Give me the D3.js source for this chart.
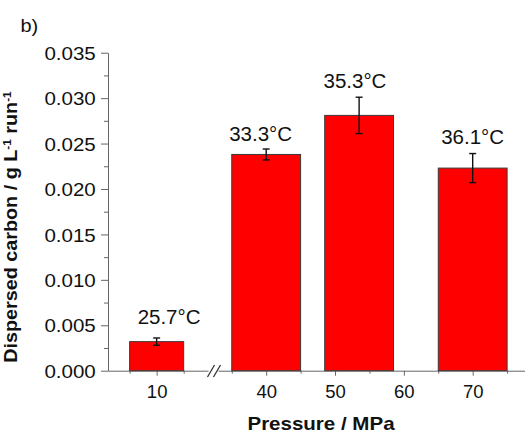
<!DOCTYPE html>
<html>
<head>
<meta charset="utf-8">
<script src="https://cdn.jsdelivr.net/npm/d3@7"></script>
<style>
  html, body { margin: 0; padding: 0; background: #fff; }
  svg { display: block; }
  text { font-family: "Liberation Sans", Arial, sans-serif; fill: #111; }
</style>
</head>
<body>
<svg id="chart" width="525" height="433"></svg>
<script>
// ---- data ----
const pressures = [10, 40, 53.5, 70];            // MPa (bar centres)
const carbon    = [0.0032, 0.0238, 0.0281, 0.0223];
const carbonErr = [0.0004, 0.0006, 0.0020, 0.0016];
const tempLabels = ["25.7°C", "33.3°C", "35.3°C", "36.1°C"];
const labelAtX  = [12.3, 39.2, 52.9, 70];        // annotation anchor, MPa
const labelAtY  = [0.0051, 0.0253, 0.0311, 0.0250]; // annotation baseline, data units
const yTicks = [0, 0.005, 0.010, 0.015, 0.020, 0.025, 0.030, 0.035];
const yMinor = [0.0025, 0.0075, 0.0125, 0.0175, 0.0225, 0.0275, 0.0325];
const xMajorLeft = [10], xMinorLeft = [5, 15];
const xMajorRight = [40, 50, 60, 70], xMinorRight = [35, 45, 55, 65, 75];
const barWidthMPa = 10;

// ---- scales ----
const svg = d3.select("#chart");
const y = d3.scaleLinear().domain([0, 0.035]).range([370.7, 52.7]);
const xL = d3.scaleLinear().domain([1, 19.5]).range([108, 208]);
const xR = d3.scaleLinear().domain([33, 77.6]).range([218, 525]);
const xOf = p => p < 25 ? xL : xR;

const axisColor = "#666";

// ---- bars ----
const bars = svg.append("g");
pressures.forEach((p, i) => {
  const xs = xOf(p);
  bars.append("rect")
    .attr("x", xs(p - barWidthMPa / 2))
    .attr("width", xs(p + barWidthMPa / 2) - xs(p - barWidthMPa / 2))
    .attr("y", y(carbon[i]))
    .attr("height", y(0) - y(carbon[i]))
    .attr("fill", "#ff0000")
    .attr("stroke", "#3a3a3a")
    .attr("stroke-width", 1);
});

// ---- error bars ----
const eb = svg.append("g").attr("stroke", "#111").attr("stroke-width", 1.4);
pressures.forEach((p, i) => {
  const cx = xOf(p)(p);
  const t = y(carbon[i] + carbonErr[i]), b = y(carbon[i] - carbonErr[i]);
  eb.append("line").attr("x1", cx).attr("x2", cx).attr("y1", t).attr("y2", b);
  eb.append("line").attr("x1", cx - 3.5).attr("x2", cx + 3.5).attr("y1", t).attr("y2", t);
  eb.append("line").attr("x1", cx - 3.5).attr("x2", cx + 3.5).attr("y1", b).attr("y2", b);
});

// ---- y axis ----
const yAx = svg.append("g").attr("transform", "translate(108,0)")
  .call(d3.axisLeft(y).tickValues(yTicks).tickFormat(d3.format(".3f")).tickSize(7).tickPadding(4).tickSizeOuter(0));
yAx.append("g").call(d3.axisLeft(y).tickValues(yMinor).tickFormat("").tickSize(4).tickSizeOuter(0))
  .select(".domain").remove();
yAx.selectAll("path, line").attr("stroke", axisColor);
yAx.selectAll("text").attr("font-size", 18.5).attr("font-family", "Liberation Sans, Arial, sans-serif")
  .attr("fill", "#111").attr("transform", "scale(1.11,1)").attr("dy", "0.36em");

// ---- x axis (broken) ----
function xAxisPart(scale, major, minor) {
  const g = svg.append("g").attr("transform", "translate(0,370.7)")
    .call(d3.axisBottom(scale).tickValues(major).tickFormat(d3.format("d")).tickSize(5).tickPadding(9).tickSizeOuter(0));
  g.append("g").call(d3.axisBottom(scale).tickValues(minor).tickFormat("").tickSize(3).tickSizeOuter(0))
    .select(".domain").remove();
  g.selectAll("path, line").attr("stroke", axisColor);
  g.selectAll("text").attr("font-size", 18.5).attr("font-family", "Liberation Sans, Arial, sans-serif").attr("fill", "#111");
  return g;
}
xAxisPart(xL, xMajorLeft, xMinorLeft);
xAxisPart(xR, xMajorRight, xMinorRight);
// bars drawn above axis line
bars.raise(); eb.raise();

// break marks
const brk = svg.append("g").attr("stroke", "#333").attr("stroke-width", 1.3);
[207.5, 213.5].forEach(bx => {
  brk.append("line").attr("x1", bx).attr("y1", 377).attr("x2", bx + 7).attr("y2", 365);
});

// ---- annotations ----
tempLabels.forEach((t, i) => {
  svg.append("text")
    .attr("x", xOf(labelAtX[i])(labelAtX[i]))
    .attr("y", y(labelAtY[i]))
    .attr("text-anchor", "middle")
    .attr("font-size", 20.5)
    .text(t);
});

// ---- titles ----
svg.append("text").attr("transform", "translate(321,430) scale(1.14,1)")
  .attr("text-anchor", "middle").attr("font-size", 18).attr("font-weight", "bold")
  .text("Pressure / MPa");

const yt = svg.append("text").attr("transform", "translate(16.5,227) rotate(-90) scale(1.13,1)")
  .attr("text-anchor", "middle").attr("font-size", 17.5).attr("font-weight", "bold");
yt.append("tspan").text("Dispersed carbon / g L");
yt.append("tspan").attr("font-size", 10.5).attr("dy", -6).text("-1");
yt.append("tspan").attr("dy", 6).text(" run");
yt.append("tspan").attr("font-size", 10.5).attr("dy", -6).text("-1");

svg.append("text").attr("transform", "translate(20.5,31.7) scale(1.05,1)")
  .attr("font-size", 19).text("b)");
</script>
</body>
</html>
